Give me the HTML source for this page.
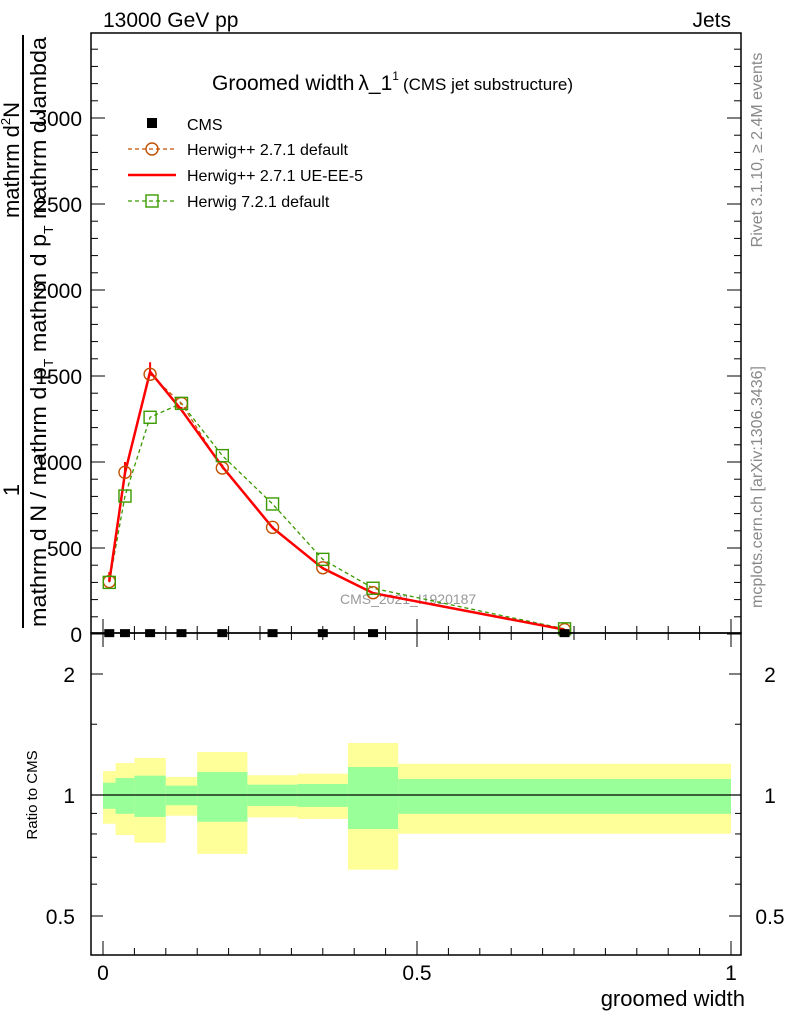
<!DOCTYPE html>
<html><head><meta charset="utf-8"><style>
body{margin:0;background:#fff}
svg text{font-family:"Liberation Sans",sans-serif}
</style></head><body>
<svg id="c" width="786" height="1024" xmlns="http://www.w3.org/2000/svg">
<text x="103" y="27" font-size="21">13000 GeV pp</text>
<text x="731" y="27" font-size="21" text-anchor="end">Jets</text>
<text x="212" y="90" font-size="21">Groomed width<tspan dx="4">λ_1</tspan><tspan font-size="12" dy="-10">1</tspan><tspan font-size="17" dy="10" dx="4">(CMS jet substructure)</tspan></text>
<g>
<line x1="23" y1="35" x2="23" y2="628" stroke="#000" stroke-width="2"/>
<text transform="translate(19,160) rotate(-90)" font-size="22" text-anchor="middle">mathrm d<tspan font-size="13" dy="-9">2</tspan><tspan dy="9">N</tspan></text>
<text transform="translate(19,490) rotate(-90)" font-size="22" text-anchor="middle">1</text>
<text transform="translate(46,332) rotate(-90)" font-size="22" text-anchor="middle" textLength="590" lengthAdjust="spacingAndGlyphs">mathrm d N / mathrm d p<tspan font-size="13" dy="7">T</tspan><tspan dy="-7"> mathrm d p</tspan><tspan font-size="13" dy="7">T</tspan><tspan dy="-7"> mathrm d lambda</tspan></text>
</g>
<text transform="translate(762,150) rotate(-90)" font-size="16" fill="#888" text-anchor="middle">Rivet 3.1.10, ≥ 2.4M events</text>
<text transform="translate(762,487) rotate(-90)" font-size="16" fill="#888" text-anchor="middle">mcplots.cern.ch [arXiv:1306.3436]</text>
<text x="340" y="604" font-size="14" fill="#999">CMS_2021_I1920187</text>
<g id="ratio"></g>
<g id="main"></g>
<rect x="91" y="33" width="650" height="600" fill="none" stroke="#000" stroke-width="1.5"/>
<rect x="91" y="633" width="650" height="322" fill="none" stroke="#000" stroke-width="1.5"/>
<text transform="translate(37,795) rotate(-90)" font-size="15" text-anchor="middle">Ratio to CMS</text>
<text x="745" y="1006" font-size="22" text-anchor="end">groomed width</text>
<g id="legend">
<rect x="147" y="118" width="10" height="10" fill="#000"/>
<text x="187" y="130" font-size="16">CMS</text>
<line x1="128" y1="149" x2="176" y2="149" stroke="#c05000" stroke-width="1.2" stroke-dasharray="4,3"/>
<circle cx="152" cy="149" r="6" fill="none" stroke="#c05000" stroke-width="1.4"/>
<text x="187" y="155" font-size="16">Herwig++ 2.7.1 default</text>
<line x1="128" y1="175" x2="176" y2="175" stroke="#f00" stroke-width="2.5"/>
<text x="187" y="181" font-size="16">Herwig++ 2.7.1 UE-EE-5</text>
<line x1="128" y1="201" x2="176" y2="201" stroke="#3a9a00" stroke-width="1.2" stroke-dasharray="4,3"/>
<rect x="146" y="195" width="12" height="12" fill="none" stroke="#3a9a00" stroke-width="1.4"/>
<text x="187" y="207" font-size="16">Herwig 7.2.1 default</text>
</g>
</svg>
<script>
const edges=[0,0.02,0.05,0.1,0.15,0.23,0.31,0.39,0.47,1.0];
const centers=[0.01,0.035,0.075,0.125,0.19,0.27,0.35,0.43,0.735];
const cmsVals=[5,5,5,5,5,5,5,5,5];
const ueVals=[304,936,1525,1302,973,618,382,238,25];
const ueErrUp=[360,1000,1580,1320,985,628,390,244,28];
const defVals=[305,940,1510,1340,965,620,385,240,25];
const h7Vals=[300,802,1260,1341,1037,756,434,266,30];
const yellowHi=[1.147,1.201,1.236,1.109,1.279,1.12,1.13,1.347,1.196];
const yellowLo=[0.848,0.795,0.761,0.888,0.714,0.88,0.872,0.652,0.801];
const greenHi=[1.073,1.102,1.117,1.055,1.141,1.061,1.065,1.174,1.096];
const greenLo=[0.924,0.898,0.882,0.943,0.858,0.939,0.934,0.823,0.898];
const yTicks=[0,500,1000,1500,2000,2500,3000];
const rTicks=[0.5,1,2];
const xTicks=[0,0.5,1];

const NS="http://www.w3.org/2000/svg";
const X=v=>103+628*v;
const Y=v=>634-v*86/500;
const R=v=>795-121*Math.log2(v);
function mk(p,t,a){const e=document.createElementNS(NS,t);for(const k in a)e.setAttribute(k,a[k]);p.appendChild(e);return e;}
const main=document.getElementById('main'),ratio=document.getElementById('ratio');

for(let i=0;i<centers.length;i++){
 const x0=X(edges[i]),x1=X(edges[i+1]);
 const y=mk(ratio,'rect',{x:x0,y:R(yellowHi[i]),width:x1-x0,height:R(yellowLo[i])-R(yellowHi[i]),fill:'#ffff99'});
 
 
 const g=mk(ratio,'rect',{x:x0,y:R(greenHi[i]),width:x1-x0,height:R(greenLo[i])-R(greenHi[i]),fill:'#99ff99'});
 
 
}
mk(ratio,'line',{x1:91,x2:741,y1:R(1),y2:R(1),stroke:'#000','stroke-width':1.2});
for(const t of rTicks){
 mk(ratio,'line',{x1:91,x2:103,y1:R(t),y2:R(t),stroke:'#000'});
 mk(ratio,'line',{x1:729,x2:741,y1:R(t),y2:R(t),stroke:'#000'});
 for(const x of [75,770]){const tx=mk(ratio,'text',{x:x,y:R(t)+8,'font-size':21,'text-anchor':x<100?'end':'middle'});tx.textContent=String(t);
 
 }
}
for(const t of [0.6,0.7,0.8,0.9,1.5]){
 mk(ratio,'line',{x1:91,x2:97,y1:R(t),y2:R(t),stroke:'#000'});
 mk(ratio,'line',{x1:735,x2:741,y1:R(t),y2:R(t),stroke:'#000'});
}
for(let v=0;v<=1.001;v+=0.05){
 const big=Math.round(v*20)%10===0;
 const L=big?14:7;
 mk(main,'line',{x1:X(v),x2:X(v),y1:633,y2:633-L,stroke:'#000'});
 mk(main,'line',{x1:X(v),x2:X(v),y1:955,y2:955-L,stroke:'#000'});
 mk(main,'line',{x1:X(v),x2:X(v),y1:633,y2:633+L,stroke:'#000'});
}
for(const t of xTicks){const tx=mk(main,'text',{x:X(t),y:980,'font-size':21,'text-anchor':'middle'});tx.textContent=String(t);
 
 }
for(let v=0;v<=3400;v+=100){
 const L=v%500===0?14:7;
 mk(main,'line',{x1:91,x2:91+L,y1:Y(v),y2:Y(v),stroke:'#000'});
 mk(main,'line',{x1:741-L,x2:741,y1:Y(v),y2:Y(v),stroke:'#000'});
}
for(const t of yTicks){const tx=mk(main,'text',{x:82,y:Y(t)+8,'font-size':21,'text-anchor':'end'});tx.textContent=String(t);
 
 }
const pts=a=>centers.map((c,i)=>X(c)+','+Y(a[i])).join(' ');
const h7=mk(main,'polyline',{points:pts(h7Vals),fill:'none',stroke:'#3a9a00','stroke-width':1.3,'stroke-dasharray':'4,3'});


const df=mk(main,'polyline',{points:pts(defVals),fill:'none',stroke:'#c05000','stroke-width':1.2,'stroke-dasharray':'4,3'});


const ue=mk(main,'polyline',{points:pts(ueVals),fill:'none',stroke:'#f00','stroke-width':2.5});


centers.forEach((c,i)=>{
 const e=mk(main,'line',{x1:X(c),x2:X(c),y1:Y(ueErrUp[i]),y2:Y(ueVals[i]),stroke:'#f00','stroke-width':2});
 
 
 const cc=mk(main,'circle',{cx:X(c),cy:Y(defVals[i]),r:6,fill:'none',stroke:'#c05000','stroke-width':1.4});
 
 
 const s=mk(main,'rect',{x:X(c)-6,y:Y(h7Vals[i])-6,width:12,height:12,fill:'none',stroke:'#3a9a00','stroke-width':1.4});
 
 
 const d=mk(main,'rect',{x:X(c)-5,y:Y(cmsVals[i])-4,width:10,height:8,fill:'#000'});
 
 
});
</script>
</body></html>
